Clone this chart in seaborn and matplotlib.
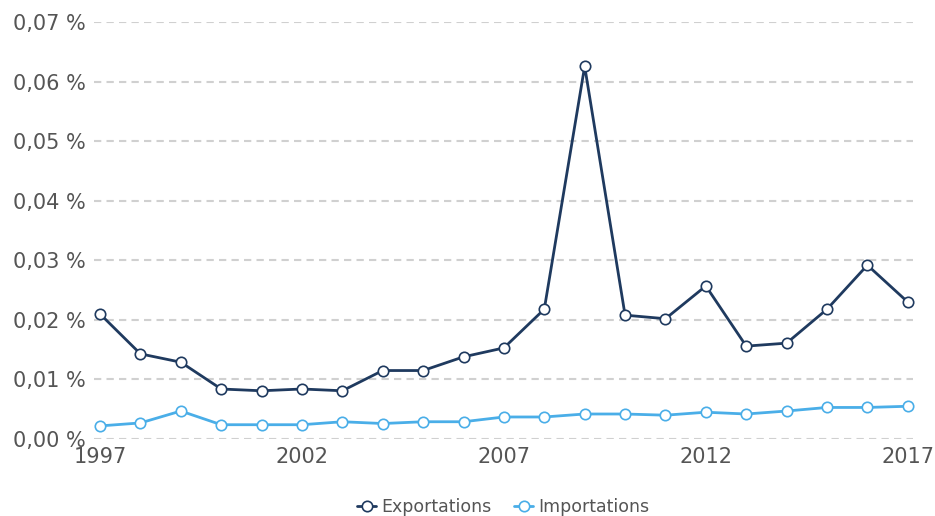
import pandas as pd
import matplotlib.pyplot as plt
import matplotlib.ticker as mticker
import seaborn as sns

years = list(range(1997, 2018))
exportations = [0.0210, 0.0143, 0.0129, 0.0084, 0.0081, 0.0084, 0.0081, 0.0115, 0.0115, 0.0138, 0.0153,
                0.0218, 0.0626, 0.0208, 0.0202, 0.0257, 0.0156, 0.0161, 0.0218, 0.0292, 0.0230]
importations = [0.0022, 0.0027, 0.0047, 0.0024, 0.0024, 0.0024, 0.0029, 0.0026, 0.0029, 0.0029, 0.0037,
                0.0037, 0.0042, 0.0042, 0.0040, 0.0045, 0.0042, 0.0047, 0.0053, 0.0053, 0.0055]
y_ticks = [0, 0.01, 0.02, 0.03, 0.04, 0.05, 0.06, 0.07]
x_ticks = [1997, 2002, 2007, 2012, 2017]

colors = {"Exportations": "#1f3a5f", "Importations": "#4aaee8"}

df = pd.DataFrame({"year": years, "Exportations": exportations, "Importations": importations})
df = df.melt(id_vars="year", var_name="serie", value_name="value")

sns.set_style("white")
plt.rcParams['font.family'] = ['DejaVu Sans']

fig = plt.figure(figsize=(9.35, 5.16), dpi=100)
ax = fig.add_axes([0.1005, 0.1492, 0.876, 0.8078])

for name, sub in df.groupby("serie", sort=False):
    sns.lineplot(data=sub, x="year", y="value", ax=ax, color=colors[name], linewidth=2,
                 marker="o", markersize=7.5, markerfacecolor="white", markeredgecolor=colors[name],
                 markeredgewidth=1.2, label=name, clip_on=False, zorder=3)

ax.set_xlim(1996.85, 2017.13)
ax.set_ylim(0, 0.07)
ax.set_xticks(x_ticks)
ax.set_yticks(y_ticks)
ax.yaxis.set_major_formatter(mticker.FuncFormatter(lambda v, p: ("%.2f %%" % v).replace(".", ",")))
ax.grid(axis="y", color="#d0d0d0", linestyle=(0, (3.5, 2.5)), linewidth=1.5)
ax.tick_params(axis="both", length=0, labelsize=15, labelcolor="#555555")
ax.tick_params(axis="x", pad=6)
ax.tick_params(axis="y", pad=6)
ax.set_xlabel("")
ax.set_ylabel("")
sns.despine(ax=ax, left=True, bottom=True)

ax.legend(loc="upper center", bbox_to_anchor=(0.5, -0.105), ncol=2, frameon=False,
          fontsize=12.5, labelcolor="#555555", handlelength=1.1, columnspacing=1.3, handletextpad=0.3)

fig.savefig("out.png", dpi=100)
